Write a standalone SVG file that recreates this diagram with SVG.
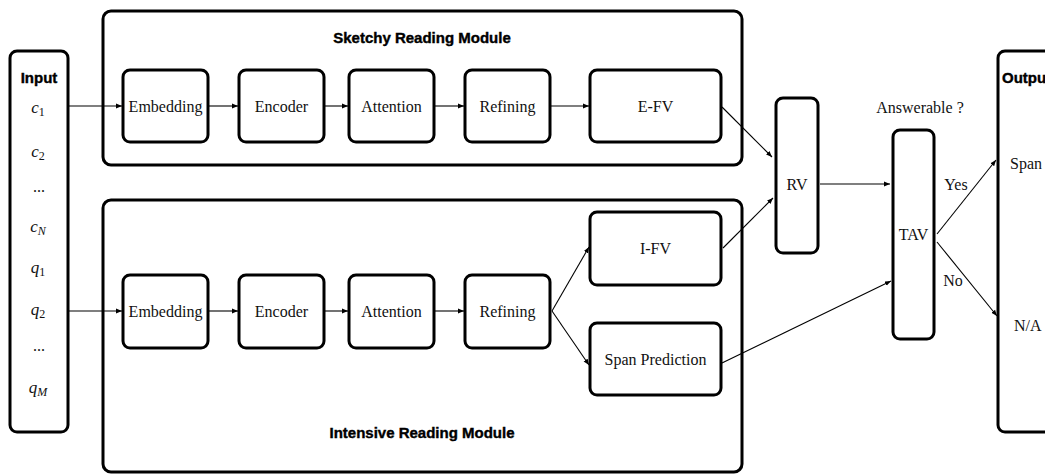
<svg xmlns="http://www.w3.org/2000/svg" width="1045" height="475" viewBox="0 0 1045 475">
<style>
.box{fill:#fff;stroke:#000;stroke-width:3}
.mod{fill:none;stroke:#000;stroke-width:3}
.t{font-family:"Liberation Serif",serif;font-size:16px;fill:#111;text-anchor:middle}
.m{font-family:"Liberation Serif",serif;font-style:italic;font-size:17px;fill:#111;text-anchor:middle}
.h{font-family:"Liberation Sans",Arial,sans-serif;font-weight:bold;font-size:15px;fill:#000;text-anchor:middle;stroke:#000;stroke-width:0.4}
.c{fill:none;stroke:#000;stroke-width:1.1;marker-end:url(#ah)}
</style>
<defs>
<marker id="ah" viewBox="0 0 10 10" refX="10" refY="5" markerWidth="6" markerHeight="6" markerUnits="userSpaceOnUse" orient="auto">
<path d="M0,1 L10,5 L0,9 z" fill="#000"/>
</marker>
</defs>
<rect width="1045" height="475" fill="#fff"/>
<g id="sketchy-module">
<rect class="mod" x="103" y="11" width="639" height="154" rx="8"/>
<text class="h" x="422" y="43">Sketchy Reading Module</text>
</g>
<g id="intensive-module">
<rect class="mod" x="103" y="200" width="639" height="272" rx="8"/>
<text class="h" x="422" y="438">Intensive Reading Module</text>
</g>
<g id="input">
<rect class="box" x="10" y="51" width="58" height="381" rx="7"/>
<text class="h" x="39" y="83">Input</text>
<text class="m" x="38" y="113">c<tspan font-style="normal" font-size="12" dy="3">1</tspan></text>
<text class="m" x="38" y="157">c<tspan font-style="normal" font-size="12" dy="3">2</tspan></text>
<text class="t" x="39" y="192">...</text>
<text class="m" x="38" y="232">c<tspan font-size="12" dy="3">N</tspan></text>
<text class="m" x="38" y="273">q<tspan font-style="normal" font-size="12" dy="3">1</tspan></text>
<text class="m" x="38" y="315">q<tspan font-style="normal" font-size="12" dy="3">2</tspan></text>
<text class="t" x="39" y="351">...</text>
<text class="m" x="38" y="393">q<tspan font-size="12" dy="3">M</tspan></text>
</g>
<g id="s-embedding"><rect class="box" x="123" y="70" width="85" height="72" rx="7"/><text class="t" x="165.5" y="112">Embedding</text></g>
<g id="s-encoder"><rect class="box" x="239" y="70" width="85" height="72" rx="7"/><text class="t" x="281.5" y="112">Encoder</text></g>
<g id="s-attention"><rect class="box" x="349" y="70" width="85" height="72" rx="7"/><text class="t" x="391.5" y="112">Attention</text></g>
<g id="s-refining"><rect class="box" x="465" y="70" width="85" height="72" rx="7"/><text class="t" x="507.5" y="112">Refining</text></g>
<g id="e-fv"><rect class="box" x="590" y="70" width="131" height="72" rx="7"/><text class="t" x="655.5" y="112">E-FV</text></g>
<g id="i-embedding"><rect class="box" x="123" y="275" width="85" height="73" rx="7"/><text class="t" x="165.5" y="317">Embedding</text></g>
<g id="i-encoder"><rect class="box" x="239" y="275" width="85" height="73" rx="7"/><text class="t" x="281.5" y="317">Encoder</text></g>
<g id="i-attention"><rect class="box" x="349" y="275" width="85" height="73" rx="7"/><text class="t" x="391.5" y="317">Attention</text></g>
<g id="i-refining"><rect class="box" x="465" y="275" width="85" height="73" rx="7"/><text class="t" x="507.5" y="317">Refining</text></g>
<g id="i-fv"><rect class="box" x="590" y="212" width="131" height="73" rx="7"/><text class="t" x="655.5" y="254">I-FV</text></g>
<g id="span-prediction"><rect class="box" x="590" y="323" width="131" height="72" rx="7"/><text class="t" x="655.5" y="365">Span Prediction</text></g>
<g id="rv"><rect class="box" x="776" y="98" width="42" height="155" rx="7"/><text class="t" x="797" y="190">RV</text></g>
<g id="tav"><rect class="box" x="893" y="130" width="41" height="209" rx="7"/><text class="t" x="913.5" y="240">TAV</text></g>
<g id="output">
<rect class="box" x="998" y="51" width="60" height="381" rx="7"/>
<text class="h" x="1002" y="83" style="text-anchor:start">Output</text>
<text class="t" x="1010" y="169" style="text-anchor:start">Span</text>
<text class="t" x="1014" y="331" style="text-anchor:start">N/A</text>
</g>
<g id="labels">
<text class="t" x="920" y="113">Answerable ?</text>
<text class="t" x="956" y="190">Yes</text>
<text class="t" x="953" y="286">No</text>
</g>
<g id="connectors">
<line class="c" x1="68" y1="106" x2="122" y2="106"/>
<line class="c" x1="208" y1="106" x2="238" y2="106"/>
<line class="c" x1="324" y1="106" x2="348" y2="106"/>
<line class="c" x1="434" y1="106" x2="464" y2="106"/>
<line class="c" x1="550" y1="106" x2="589" y2="106"/>
<line class="c" x1="68" y1="311" x2="122" y2="311"/>
<line class="c" x1="208" y1="311" x2="238" y2="311"/>
<line class="c" x1="324" y1="311" x2="348" y2="311"/>
<line class="c" x1="434" y1="311" x2="464" y2="311"/>
<line class="c" x1="552" y1="311" x2="589" y2="247"/>
<line class="c" x1="552" y1="311" x2="589" y2="365"/>
<line class="c" x1="722" y1="107" x2="772" y2="157"/>
<line class="c" x1="723" y1="248" x2="773" y2="198"/>
<line class="c" x1="820" y1="184" x2="890" y2="184"/>
<line class="c" x1="722" y1="363" x2="891" y2="281"/>
<line class="c" x1="937" y1="234" x2="996" y2="160"/>
<line class="c" x1="937" y1="242" x2="997" y2="316"/>
</g>
</svg>
